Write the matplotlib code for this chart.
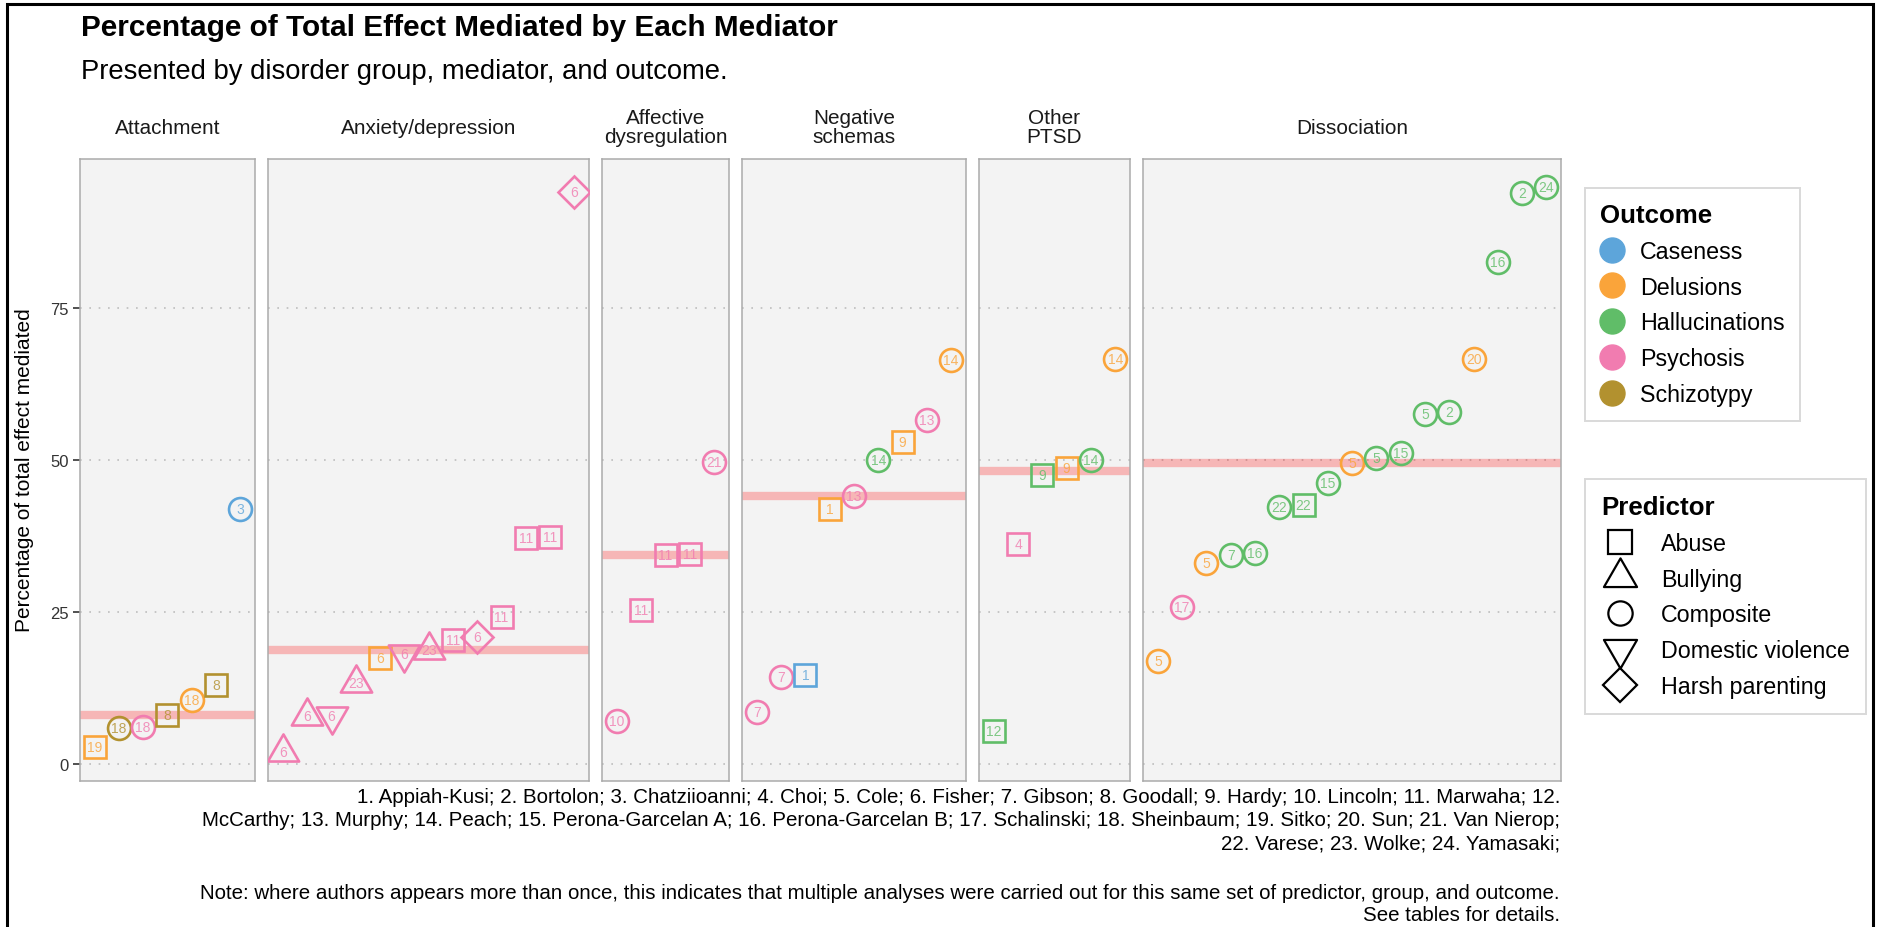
import numpy as np
import matplotlib
matplotlib.use("Agg")
import matplotlib.pyplot as plt
from matplotlib.lines import Line2D
from matplotlib.patches import Rectangle
from matplotlib.path import Path

plt.rcParams['font.family'] = ['Liberation Sans', 'DejaVu Sans']

# ---------------- data ----------------
group_levels = ["Attachment", "Anxiety/depression", "Affective\ndysregulation",
                "Negative\nschemas", "Other\nPTSD", "Dissociation"]
group_sizes = [7, 13, 5, 9, 6, 17]

study = [19, 18, 18, 8, 18, 8, 3,
         6, 6, 6, 23, 6, 6, 23, 11, 6, 11, 11, 11, 6,
         10, 11, 11, 11, 21,
         7, 7, 1, 1, 13, 14, 9, 13, 14,
         12, 4, 9, 9, 14, 14,
         5, 17, 5, 7, 16, 22, 22, 15, 5, 5, 15, 5, 2, 20, 16, 2, 24]

# C=Caseness D=Delusions H=Hallucinations P=Psychosis S=Schizotypy
outcome = list("DSPSDSC" + "PPPPDPPPPPPPP" + "PPPPP" + "PPCDPHDPD" + "HPHDHD"
               + "DPDHHHHHDHHHHDHHH")
# A=Abuse B=Bullying C=Composite V=Domestic violence H=Harsh parenting
predictor = list("ACCACAC" + "BBVBAVBAHAAAH" + "CAAAC" + "CCAACCACC" + "AAAACC"
                 + "CCCCCCACCCCCCCCCC")

pct = [2.8, 5.9, 6.1, 8.0, 10.6, 13.0, 42.0,
       1.9, 7.9, 7.9, 13.3, 17.5, 18.0, 18.7, 20.4, 20.9, 24.1, 37.2, 37.3, 94.1,
       7.0, 25.3, 34.4, 34.5, 49.6,
       8.6, 14.3, 14.7, 42.0, 44.1, 49.9, 52.9, 56.6, 66.5,
       5.5, 36.2, 47.5, 48.7, 49.9, 66.6,
       16.9, 25.8, 33.1, 34.4, 34.7, 42.3, 42.6, 46.2, 49.5, 50.3, 51.1, 57.5, 57.8,
       66.6, 82.6, 93.8, 94.9]

outcome_codes = ["C", "D", "H", "P", "S"]
outcome_labels = ["Caseness", "Delusions", "Hallucinations", "Psychosis", "Schizotypy"]
outcome_colors = ["#5DA5DA", "#FAA43A", "#60BD68", "#F17CB0", "#B2912F"]

predictor_codes = ["A", "B", "C", "V", "H"]
predictor_labels = ["Abuse", "Bullying", "Composite", "Domestic violence", "Harsh parenting"]

authors = ["Appiah-Kusi", "Bortolon", "Chatziioanni", "Choi", "Cole", "Fisher", "Gibson",
           "Goodall", "Hardy", "Lincoln", "Marwaha", "McCarthy", "Murphy", "Peach",
           "Perona-Garcelan A", "Perona-Garcelan B", "Schalinski", "Sheinbaum", "Sitko",
           "Sun", "Van Nierop", "Varese", "Wolke", "Yamasaki"]

title = "Percentage of Total Effect Mediated by Each Mediator"
subtitle = "Presented by disorder group, mediator, and outcome."
ylabel = "Percentage of total effect mediated"
note = ("Note: where authors appears more than once, this indicates that multiple analyses "
        "were carried out for this same set of predictor, group, and outcome.")
note2 = "See tables for details."

# ---------------- styling ----------------
tri_up = Path([(0, 1.1547), (-1, -0.57735), (1, -0.57735), (0, 1.1547)], closed=True)
tri_dn = Path([(0, -1.1547), (-1, 0.57735), (1, 0.57735), (0, -1.1547)], closed=True)
pred_marker = {"A": "s", "B": tri_up, "C": "o", "V": tri_dn, "H": "D"}
pred_ms = {"A": 16.0, "B": 26.0, "C": 16.5, "V": 26.0, "H": 16.0}
leg_ms = {"A": 17.5, "B": 27.5, "C": 17.5, "V": 27.5, "H": 17.5}
col = dict(zip(outcome_codes, outcome_colors))

W, H = 1880, 928
fig = plt.figure(figsize=(W / 100, H / 100), dpi=100)
renderer = fig.canvas.get_renderer()


def size_for(s, width_px, **kw):
    t = fig.text(0, 0, s, fontsize=10, **kw)
    w = t.get_window_extent(renderer).width
    t.remove()
    return 10 * width_px / w


def fx(px):
    return px / W


def fy(py):
    return 1 - py / H


# panel geometry (pixels)
left_px, right_px, gap_px = 80, 1561, 13.5
top_px, bot_px = 159.5, 781.7
units = [n + 0.2 for n in group_sizes]
u = (right_px - left_px - gap_px * (len(units) - 1)) / sum(units)

pct_arr = np.array(pct)
rng = pct_arr.max() - pct_arr.min()
ylim = (pct_arr.min() - 0.05 * rng, pct_arr.max() + 0.05 * rng)

strip_fs = size_for("Anxiety/depression", 176)

x0 = left_px
start = 0
axes = []
for gi, (gname, n) in enumerate(zip(group_levels, group_sizes)):
    wpx = units[gi] * u
    ax = fig.add_axes([fx(x0), fy(bot_px), wpx / W, (bot_px - top_px) / H])
    axes.append(ax)
    ax.set_facecolor("#F3F3F3")
    for sp in ax.spines.values():
        sp.set_color("#ABABAB")
        sp.set_linewidth(1.1)
    ax.set_xlim(0.4, n + 0.6)
    ax.set_ylim(*ylim)
    ax.set_yticks([0, 25, 50, 75])
    ax.set_xticks([])
    ax.grid(axis="y", color="#BDBDBD", linestyle=(0, (1, 4.6)), linewidth=1.2)
    ax.set_axisbelow(True)

    idx = list(range(start, start + n))
    vals = pct_arr[idx]
    ax.axhline(np.median(vals), color="#FF0000", alpha=0.25, lw=6, zorder=1.5)
    order = np.argsort(vals, kind="stable")
    for rank, k in enumerate(order, start=1):
        i = idx[k]
        c = col[outcome[i]]
        p = predictor[i]
        ax.plot([rank], [pct[i]], linestyle="none", marker=pred_marker[p], ms=pred_ms[p],
                mfc="none", mec=c, mew=1.9, zorder=3)
        ax.text(rank, pct[i], str(study[i]), ha="center", va="center", fontsize=10,
                color=c, alpha=0.8, zorder=4)

    if gi == 0:
        ax.tick_params(axis="y", length=5, width=1.2, color="#333333", labelsize=12,
                       labelcolor="#333333", pad=3)
    else:
        ax.tick_params(axis="y", length=0, labelleft=False)
    ax.tick_params(axis="x", length=0)

    ax.annotate(gname, xy=(0.5, 1), xycoords="axes fraction", xytext=(0, 31.5 * 0.72),
                textcoords="offset points", ha="center", va="center",
                fontsize=strip_fs, linespacing=0.95, color="#1A1A1A",
                multialignment="center")
    x0 += wpx + gap_px
    start += n

fig.text(fx(25), fy((top_px + bot_px) / 2), ylabel, rotation=90, ha="center", va="center",
         fontsize=15.0, color="black")

# ---------------- titles ----------------
fig.text(fx(81), fy(36), title, fontsize=size_for(title, 757, weight="bold"),
         weight="bold", ha="left", va="baseline")
fig.text(fx(81), fy(79), subtitle, fontsize=size_for(subtitle, 650), ha="left",
         va="baseline")

# ---------------- caption ----------------
cap = " ".join(f"{i + 1}. {a};" for i, a in enumerate(authors))
cut1 = cap.index("McCarthy")
cut2 = cap.index("22. Varese")
lines = [cap[:cut1].strip(), cap[cut1:cut2].strip(), cap[cut2:].strip()]
cap_fs = size_for(lines[1], 1363)
for j, ln in enumerate(lines):
    fig.text(fx(1560), fy(798 + 23 * j), ln, fontsize=cap_fs, ha="right", va="center")
fig.text(fx(1560), fy(894), note, fontsize=cap_fs, ha="right", va="center")
fig.text(fx(1560), fy(916), note2, fontsize=cap_fs, ha="right", va="center")

# ---------------- legends ----------------
lab_fs = size_for("Domestic violence", 190)
tit_fs = size_for("Outcome", 112, weight="bold")
fpx = lab_fs * 100 / 72

h_out = [Line2D([], [], linestyle="none", marker="o", ms=18, mfc=c, mec=c)
         for c in outcome_colors]
leg1 = fig.legend(h_out, outcome_labels, loc="upper left",
                  bbox_to_anchor=(fx(1585), fy(189)), title="Outcome",
                  prop={"size": lab_fs}, title_fontproperties={"size": tit_fs, "weight": "bold"},
                  alignment="left", frameon=True, fancybox=False, framealpha=1,
                  edgecolor="#D9D9D9", borderpad=15 / fpx, handlelength=23 / fpx,
                  handletextpad=17 / fpx, labelspacing=0.55, borderaxespad=0)
leg1.get_frame().set_linewidth(1.4)

h_pred = [Line2D([], [], linestyle="none", marker=pred_marker[p], ms=leg_ms[p],
                 mfc="none", mec="black", mew=1.6) for p in predictor_codes]
leg2 = fig.legend(h_pred, predictor_labels, loc="upper left",
                  bbox_to_anchor=(fx(1585), fy(480)), title="Predictor",
                  prop={"size": lab_fs}, title_fontproperties={"size": tit_fs, "weight": "bold"},
                  alignment="left", frameon=True, fancybox=False, framealpha=1,
                  edgecolor="#D9D9D9", borderpad=16 / fpx, handlelength=38 / fpx,
                  handletextpad=22 / fpx, labelspacing=0.55, borderaxespad=0)
leg2.get_frame().set_linewidth(1.4)

# outer border
fig.patches.append(Rectangle((fx(7), fy(935)), fx(1873) - fx(7), fy(5) - fy(935),
                             transform=fig.transFigure, fill=False, edgecolor="black",
                             linewidth=2.2, zorder=10))

fig.savefig("out.png", dpi=100, facecolor="white")
